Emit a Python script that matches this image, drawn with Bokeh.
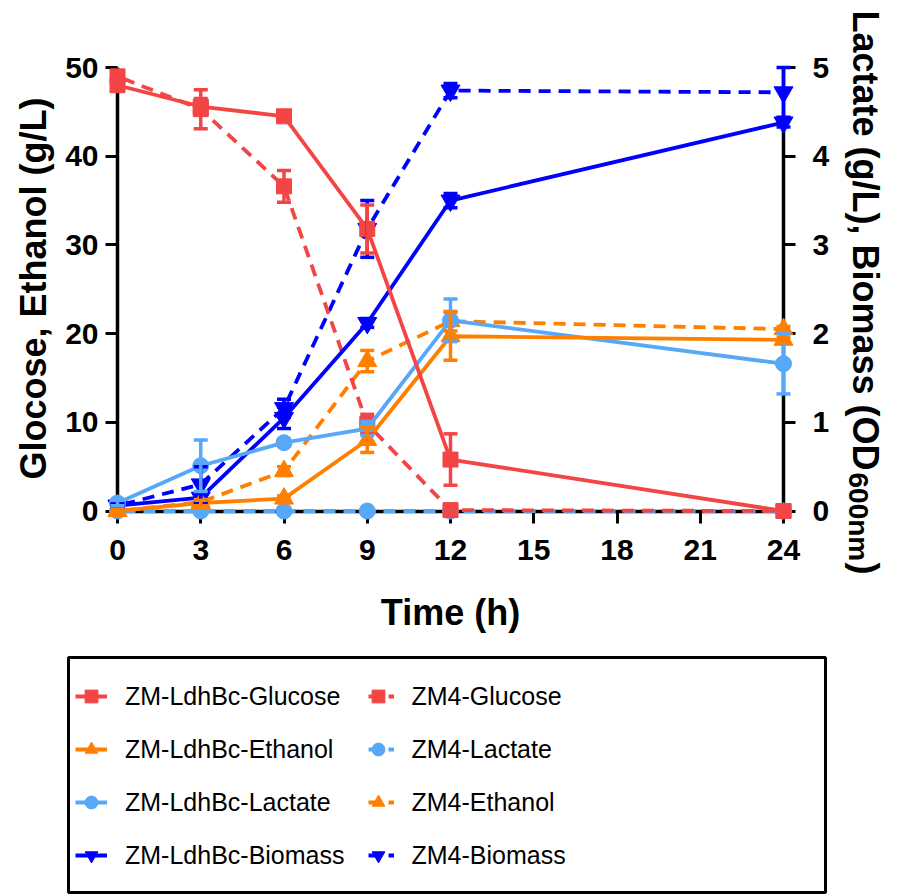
import math
from bokeh.plotting import figure
from bokeh.models import (Range1d, LinearAxis, FixedTicker, ColumnDataSource, Whisker, TeeHead,
                          Legend, LegendItem, Label, BoxAnnotation)
from bokeh.embed import file_html
from bokeh.resources import INLINE

# ---------------- data ----------------
time_h = [0, 3, 6, 9, 12, 24]
x_ticks = [0, 3, 6, 9, 12, 15, 18, 21, 24]
left_ticks = [0, 10, 20, 30, 40, 50]
right_ticks = [0, 1, 2, 3, 4, 5]

ldh_glucose = [48.0, 45.6, 44.5, 31.8, 5.8, 0.0]
ldh_glucose_err = [0.5, 0.9, 0.4, 2.7, 2.9, 0.2]
ldh_ethanol = [0.0, 0.9, 1.4, 8.0, 19.7, 19.3]
ldh_ethanol_err = [0.2, 0.3, 0.3, 1.4, 2.7, 0.3]
ldh_lactate = [0.09, 0.51, 0.77, 0.93, 2.15, 1.66]
ldh_lactate_err = [0.03, 0.29, 0.04, 0.08, 0.24, 0.34]
ldh_biomass = [0.06, 0.15, 1.05, 2.12, 3.50, 4.38]
ldh_biomass_err = [0.02, 0.05, 0.12, 0.05, 0.08, 0.05]

zm4_glucose = [49.0, 45.3, 36.6, 9.8, 0.1, 0.0]
zm4_glucose_err = [0.5, 2.2, 1.8, 1.1, 0.2, 0.1]
zm4_lactate = [0.0, 0.0, 0.0, 0.0, 0.0, 0.0]
zm4_lactate_err = [0.0, 0.0, 0.0, 0.0, 0.0, 0.0]
zm4_ethanol = [0.0, 1.0, 4.5, 16.9, 21.4, 20.5]
zm4_ethanol_err = [0.2, 0.3, 0.5, 1.2, 1.1, 0.3]
zm4_biomass = [0.06, 0.30, 1.16, 3.18, 4.74, 4.72]
zm4_biomass_err = [0.02, 0.20, 0.10, 0.32, 0.08, 0.28]

RED = "#F44545"
ORANGE = "#FF8000"
LBLUE = "#58A8F8"
BLUE = "#0000FF"
FONT = "Liberation Sans"

# ---------------- geometry (the frame covers the whole figure) ----------------
W, H = 894, 895
X0_PX, X24_PX = 117.0, 783.0      # screen position of t=0 and t=24
Y0_PX, Y50_PX = 510.5, 67.0       # screen position of 0 and 50 on the left axis
kx = (X24_PX - X0_PX) / 24.0
ky = (Y0_PX - Y50_PX) / 50.0
x_start = -X0_PX / kx
x_end = 24 + (W - X24_PX) / kx
y_end = 50 + Y50_PX / ky
y_start = -(H - Y0_PX) / ky

p = figure(frame_width=W, frame_height=H,
           x_range=Range1d(x_start, x_end), y_range=Range1d(y_start, y_end),
           output_backend="svg", toolbar_location=None,
           min_border_left=0, min_border_right=0, min_border_top=0, min_border_bottom=0)
p.extra_y_ranges = {"right": Range1d(y_start / 10.0, y_end / 10.0)}
p.add_layout(LinearAxis(y_range_name="right"), "right")
p.outline_line_color = None
p.xgrid.visible = False
p.ygrid.visible = False
p.background_fill_color = "white"
p.border_fill_color = "white"

xa = p.below[0]
ya = p.left[0]
ra = p.right[0]
xa.ticker = FixedTicker(ticks=x_ticks)
ya.ticker = FixedTicker(ticks=left_ticks)
ra.ticker = FixedTicker(ticks=right_ticks)
xa.fixed_location = 0
ya.fixed_location = 0
ra.fixed_location = 24
xa.bounds = (0, 24)
ya.bounds = (0, 50)
ra.bounds = (0, 5)
for ax in (xa, ya, ra):
    ax.axis_line_width = 3.5
    ax.axis_line_color = "black"
    ax.major_tick_line_width = 3
    ax.major_tick_line_color = "black"
    ax.major_tick_out = 12
    ax.major_tick_in = 0
    ax.minor_tick_line_color = None
    ax.major_label_text_font = FONT
    ax.major_label_text_font_style = "bold"
    ax.major_label_text_font_size = "30px"
    ax.major_label_text_color = "black"
xa.major_label_standoff = 17
ya.major_label_standoff = 7
ra.major_label_standoff = 17
xa.axis_label = "Time (h)"
xa.axis_label_text_font = FONT
xa.axis_label_text_font_style = "bold"
xa.axis_label_text_font_size = "36px"
xa.axis_label_text_color = "black"
xa.axis_label_standoff = 28


def series(y, err, color, marker, size, dash, rng):
    src = ColumnDataSource(dict(x=time_h, y=y,
                                lo=[a - b for a, b in zip(y, err)],
                                hi=[a + b for a, b in zip(y, err)]))
    w = Whisker(source=src, base="x", upper="hi", lower="lo", line_color=color, line_width=3.5,
                upper_head=TeeHead(size=14, line_color=color, line_width=3.5),
                lower_head=TeeHead(size=14, line_color=color, line_width=3.5),
                level="annotation", y_range_name=rng)
    p.add_layout(w)
    lr = p.line("x", "y", source=src, line_color=color, line_width=3.8, line_dash=dash,
                line_dash_offset=0 if dash == "solid" else 14,
                level="annotation", y_range_name=rng)
    sr = p.scatter("x", "y", source=src, marker=marker, size=size, fill_color=color,
                   line_color=color, level="annotation", y_range_name=rng)
    return [lr, sr]


DASH = "12 8"
r_zb = series(zm4_biomass, zm4_biomass_err, BLUE, "inverted_triangle", 19, DASH, "right")
r_ze = series(zm4_ethanol, zm4_ethanol_err, ORANGE, "triangle", 19, DASH, "default")
r_zl = series(zm4_lactate, zm4_lactate_err, LBLUE, "circle", 16, DASH, "right")
r_zg = series(zm4_glucose, zm4_glucose_err, RED, "square", 15, DASH, "default")
r_lb = series(ldh_biomass, ldh_biomass_err, BLUE, "inverted_triangle", 19, "solid", "right")
r_ll = series(ldh_lactate, ldh_lactate_err, LBLUE, "circle", 16, "solid", "right")
r_le = series(ldh_ethanol, ldh_ethanol_err, ORANGE, "triangle", 19, "solid", "default")
r_lg = series(ldh_glucose, ldh_glucose_err, RED, "square", 15, "solid", "default")

items = [
    LegendItem(label="ZM-LdhBc-Glucose", renderers=r_lg),
    LegendItem(label="ZM-LdhBc-Ethanol", renderers=r_le),
    LegendItem(label="ZM-LdhBc-Lactate", renderers=r_ll),
    LegendItem(label="ZM-LdhBc-Biomass", renderers=r_lb),
    LegendItem(label="ZM4-Glucose", renderers=r_zg),
    LegendItem(label="ZM4-Lactate", renderers=r_zl),
    LegendItem(label="ZM4-Ethanol", renderers=r_ze),
    LegendItem(label="ZM4-Biomass", renderers=r_zb),
]
legend = Legend(items=items, ncols=2, orientation="vertical", location=(75, 22),
                border_line_alpha=0, background_fill_alpha=0,
                label_text_font=FONT, label_text_font_size="25px", label_text_color="black",
                glyph_width=32, glyph_height=36, label_height=36, label_width=205,
                label_standoff=18, spacing=17, padding=0, margin=0)
p.add_layout(legend)

box = BoxAnnotation(left=68, right=825, top=H - 657, bottom=H - 892,
                    left_units="screen", right_units="screen", top_units="screen", bottom_units="screen",
                    fill_alpha=0, line_color="black", line_alpha=1.0, line_width=3, level="annotation")
p.add_layout(box)

# axis titles as text labels (screen units, relative to the frame's bottom-left)
p.add_layout(Label(x=33, y=H - 288, x_units="screen", y_units="screen", text="Glocose, Ethanol (g/L)",
                   angle=math.pi / 2, text_align="center", text_baseline="alphabetic",
                   text_font=FONT, text_font_style="bold", text_font_size="36px", text_color="black"))
p.add_layout(Label(x=865, y=H - 470, x_units="screen", y_units="screen",
                   text="Lactate (g/L), Biomass (OD",
                   angle=-math.pi / 2, text_align="right", text_baseline="alphabetic",
                   text_font=FONT, text_font_style="bold", text_font_size="36px", text_color="black"))
p.add_layout(Label(x=858, y=H - 472, x_units="screen", y_units="screen", text="600nm",
                   angle=-math.pi / 2, text_align="left", text_baseline="alphabetic",
                   text_font=FONT, text_font_style="bold", text_font_size="28px", text_color="black"))
p.add_layout(Label(x=865, y=H - 562, x_units="screen", y_units="screen", text=")",
                   angle=-math.pi / 2, text_align="left", text_baseline="alphabetic",
                   text_font=FONT, text_font_style="bold", text_font_size="36px", text_color="black"))

open("out.html", "w").write(file_html(p, INLINE))
